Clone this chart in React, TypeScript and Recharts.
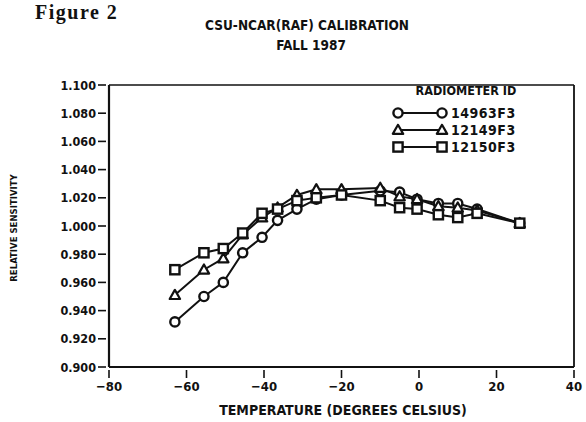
import { Line, LineChart, ReferenceLine, XAxis, YAxis } from "recharts";

const temps = [-63, -55.5, -50.5, -45.5, -40.5, -36.5, -31.5, -26.5, -20, -10, -5, -0.5, 5, 10, 15, 26];
const r14963 = [0.932, 0.95, 0.96, 0.981, 0.992, 1.004, 1.012, 1.019, 1.022, 1.025, 1.024, 1.019, 1.016, 1.016, 1.012, 1.002];
const r12149 = [0.951, 0.969, 0.977, 0.994, 1.006, 1.013, 1.022, 1.026, 1.026, 1.027, 1.021, 1.019, 1.014, 1.013, 1.011, 1.002];
const r12150 = [0.969, 0.981, 0.984, 0.995, 1.009, 1.012, 1.018, 1.02, 1.022, 1.018, 1.013, 1.012, 1.008, 1.006, 1.009, 1.002];

const xTicks = [-80, -60, -40, -20, 0, 20, 40];
const yTicks = [0.9, 0.92, 0.94, 0.96, 0.98, 1.0, 1.02, 1.04, 1.06, 1.08, 1.1];

const series = [
  { key: "a", id: "14963F3", shape: "circle" },
  { key: "b", id: "12149F3", shape: "triangle" },
  { key: "c", id: "12150F3", shape: "square" },
];

const data = temps.map((t, i) => ({ t, a: r14963[i], b: r12149[i], c: r12150[i] }));

const FONT = "'DejaVu Sans Condensed', 'Liberation Sans Narrow', 'Liberation Sans', sans-serif";
const INK = "#111";

function Marker({ shape, cx, cy }: { shape: string; cx: number; cy: number }) {
  if (shape === "circle") {
    return <circle cx={cx} cy={cy} r={4.6} fill="#fff" stroke={INK} strokeWidth={2.4} />;
  }
  if (shape === "triangle") {
    const s = 5.2;
    return (
      <polygon
        points={`${cx},${cy - s} ${cx - s},${cy + s * 0.75} ${cx + s},${cy + s * 0.75}`}
        fill="#fff"
        stroke={INK}
        strokeWidth={2.2}
        strokeLinejoin="round"
      />
    );
  }
  return <rect x={cx - 4.6} y={cy - 4.6} width={9.2} height={9.2} fill="#fff" stroke={INK} strokeWidth={2.4} />;
}

const dotFor = (shape: string) => (props: any) =>
  <Marker key={`${shape}-${props.index}`} shape={shape} cx={props.cx} cy={props.cy} />;

const XTick = (props: any) => {
  const { x, y, payload } = props;
  const v = payload.value;
  return (
    <g>
      <line x1={x} x2={x} y1={y - 5} y2={y + 3} stroke={INK} strokeWidth={1.6} />
      <text x={x} y={y + 16} textAnchor="middle" fontFamily={FONT} fontWeight="bold" fontSize={13} fill={INK}>
        {v < 0 ? `\u2212${Math.abs(v)}` : v}
      </text>
    </g>
  );
};

const YTick = (props: any) => {
  const { x, y, payload } = props;
  return (
    <g>
      <line x1={x - 3} x2={x + 5} y1={y} y2={y} stroke={INK} strokeWidth={1.6} />
      <text x={x - 5} y={y + 4.5} textAnchor="end" fontFamily={FONT} fontWeight="bold" fontSize={12.5} fill={INK}>
        {payload.value.toFixed(3)}
      </text>
    </g>
  );
};

// legend drawn as plain svg at the top right of the plot box
const LegendBox = ({ x, y }: { x: number; y: number }) => (
  <g transform={`translate(${x},${y})`}>
    <text x={68} y={14} textAnchor="middle" fontFamily={FONT} fontWeight="bold" fontSize={12.5} fill={INK}>
      RADIOMETER ID
    </text>
    {series.map((s, i) => {
      const cy = 32 + i * 17;
      return (
        <g key={s.key}>
          <line x1={0} x2={44} y1={cy} y2={cy} stroke={INK} strokeWidth={2} />
          <Marker shape={s.shape} cx={0} cy={cy} />
          <Marker shape={s.shape} cx={44} cy={cy} />
          <text x={53} y={cy + 5} fontFamily={FONT} fontWeight="bold" fontSize={14} fill={INK} letterSpacing={0.5}>
            {s.id}
          </text>
        </g>
      );
    })}
  </g>
);

export default function App() {
  return (
    <div style={{ position: "absolute", left: 0, top: 0, width: 586, height: 422, background: "#fff" }}>
      <div style={{ position: "absolute", left: 0, top: 0 }}>
        <LineChart width={586} height={422} data={data} margin={{ top: 85, right: 12, bottom: 54, left: 108 }}>
          <XAxis
            dataKey="t"
            type="number"
            domain={[-80, 40]}
            ticks={xTicks}
            height={1}
            axisLine={{ stroke: INK, strokeWidth: 2.2 }}
            tickLine={false}
            tick={<XTick />}
            interval={0}
          />
          <YAxis
            type="number"
            domain={[0.9, 1.1]}
            ticks={yTicks}
            width={1}
            axisLine={{ stroke: INK, strokeWidth: 2.2 }}
            tickLine={false}
            tick={<YTick />}
            interval={0}
          />
          <ReferenceLine y={1.1} stroke={INK} strokeWidth={1.5} />
          <ReferenceLine x={40} stroke={INK} strokeWidth={1.8} />
          {series.map((s) => (
            <Line
              key={s.key}
              dataKey={s.key}
              name={s.id}
              type="linear"
              stroke={INK}
              strokeWidth={2}
              dot={dotFor(s.shape)}
              activeDot={false}
              isAnimationActive={false}
            />
          ))}
        </LineChart>
      </div>
      <svg width={586} height={422} style={{ position: "absolute", left: 0, top: 0, pointerEvents: "none" }}>
        <text x={35} y={19} fontFamily="'Liberation Serif', 'DejaVu Serif', serif" fontWeight="bold" fontSize={20} letterSpacing={1.5} fill={INK}>
          Figure 2
        </text>
        <text x={307} y={30} textAnchor="middle" fontFamily={FONT} fontWeight="bold" fontSize={13.5} fill={INK}>
          CSU-NCAR(RAF) CALIBRATION
        </text>
        <text x={311} y={50} textAnchor="middle" fontFamily={FONT} fontWeight="bold" fontSize={13.5} fill={INK}>
          FALL 1987
        </text>
        <text x={343} y={415} textAnchor="middle" fontFamily={FONT} fontWeight="bold" fontSize={14} fill={INK}>
          TEMPERATURE (DEGREES CELSIUS)
        </text>
        <text
          x={0}
          y={0}
          transform="translate(17,228) rotate(-90)"
          textAnchor="middle"
          fontFamily={FONT}
          fontWeight="bold"
          fontSize={9.5}
          fill={INK}
        >
          RELATIVE SENSITIVITY
        </text>
        <LegendBox x={398} y={81} />
      </svg>
    </div>
  );
}
